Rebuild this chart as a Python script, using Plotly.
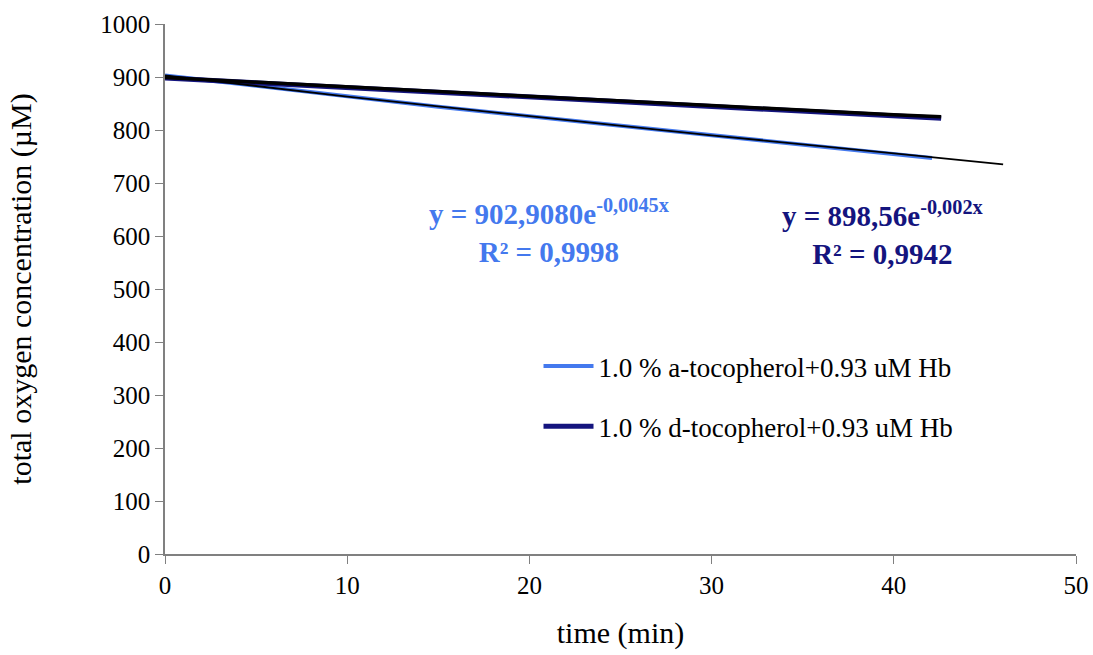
import plotly.graph_objects as go

time_a = [0, 5, 10, 15, 20, 25, 30, 35, 40, 42.1]
oxy_a = [903, 883, 863, 844, 826, 808, 790, 772, 755, 747]
time_d = [0, 5, 10, 15, 20, 25, 30, 35, 40, 42.6]
oxy_d = [898, 889, 880, 871, 862, 853, 845, 836, 828, 822]

# exponential trendlines
trend_a_x = [0, 10, 20, 30, 40, 46]
trend_a_y = [903, 863, 826, 790, 756, 735]
trend_d_x = [0, 10, 20, 30, 40, 42.6]
trend_d_y = [899, 881, 863, 846, 829, 825]

label_a = "1.0 % a-tocopherol+0.93 uM Hb"
label_d = "1.0 % d-tocopherol+0.93 uM Hb"

BLUE = "#4479ee"
NAVY = "#14147e"
FONT = "Liberation Serif"

fig = go.Figure()
fig.add_trace(go.Scatter(
    x=time_a, y=oxy_a, mode="lines", name=label_a, legendgroup="a",
    line=dict(color=BLUE, width=4),
))
fig.add_trace(go.Scatter(
    x=time_d, y=oxy_d, mode="lines", name=label_d, legendgroup="d",
    line=dict(color=NAVY, width=5),
))
fig.add_trace(go.Scatter(
    x=trend_a_x, y=trend_a_y, mode="lines", showlegend=False,
    line=dict(color="black", width=1.8),
))
fig.add_trace(go.Scatter(
    x=trend_d_x, y=trend_d_y, mode="lines", showlegend=False,
    line=dict(color="black", width=3.5),
))

fig.add_annotation(
    x=21.1, y=610, xref="x", yref="y", showarrow=False,
    text="<b>y = 902,9080e<sup>-0,0045x</sup></b><br><b>R² = 0,9998</b>",
    font=dict(family=FONT, size=29, color=BLUE), align="center",
)
fig.add_annotation(
    x=39.4, y=606, xref="x", yref="y", showarrow=False,
    text="<b>y = 898,56e<sup>-0,002x</sup></b><br><b>R² = 0,9942</b>",
    font=dict(family=FONT, size=29, color=NAVY), align="center",
)

axis_style = dict(
    showgrid=False, zeroline=False, showline=True, linecolor="#808080",
    linewidth=1.5, ticks="outside", ticklen=8, tickcolor="#808080",
    tickfont=dict(family=FONT, size=25, color="black"), automargin=False,
)

fig.update_layout(
    width=1093, height=655,
    margin=dict(l=165, r=17, t=24, b=101),
    plot_bgcolor="white", paper_bgcolor="white",
    font=dict(family=FONT, color="black"),
    xaxis=dict(range=[0, 50], dtick=10,
               title=dict(text="time (min)", font=dict(family=FONT, size=30), standoff=24),
               **axis_style),
    yaxis=dict(range=[0, 1000], dtick=100,
               title=dict(text="total oxygen concentration (µM)", font=dict(family=FONT, size=30), standoff=60),
               **axis_style),
    legend=dict(x=0.41, y=0.40, xanchor="left", yanchor="top",
                font=dict(family=FONT, size=27, color="black"),
                tracegroupgap=22, bgcolor="rgba(0,0,0,0)", itemwidth=50),
)

# drop the default page margin so the figure fills the window exactly
fig.write_html("out.html", config={"displayModeBar": False},
               post_script="document.body.style.margin='0';")
